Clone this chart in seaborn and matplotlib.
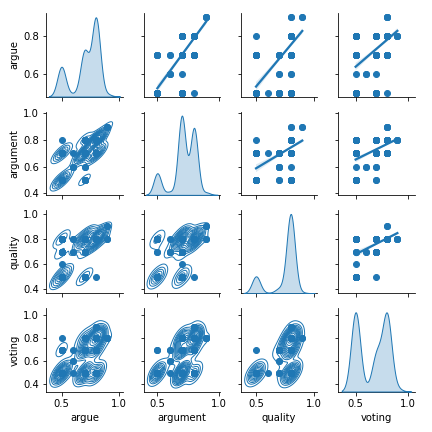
import numpy as np
import pandas as pd
import matplotlib
matplotlib.use("Agg")
import matplotlib.pyplot as plt
import seaborn as sns

# distinct response patterns (argue, argument, quality, voting) and how often each occurs
argue_vals = [0.5, 0.5, 0.5, 0.5, 0.5, 0.5, 0.5, 0.5,
              0.6, 0.6, 0.6,
              0.7, 0.7, 0.7, 0.7, 0.7, 0.7, 0.7, 0.7, 0.7, 0.7,
              0.8, 0.8, 0.8, 0.8, 0.8, 0.8, 0.8, 0.8,
              0.9, 0.9]
argument_vals = [0.5, 0.5, 0.5, 0.7, 0.7, 0.7, 0.7, 0.8,
                 0.6, 0.7, 0.6,
                 0.6, 0.5, 0.7, 0.7, 0.7, 0.7, 0.7, 0.7, 0.8, 0.8,
                 0.8, 0.7, 0.8, 0.7, 0.8, 0.7, 0.8, 0.8,
                 0.9, 0.9]
quality_vals = [0.5, 0.8, 0.7, 0.5, 0.8, 0.7, 0.6, 0.8,
                0.7, 0.8, 0.8,
                0.7, 0.8, 0.5, 0.5, 0.7, 0.8, 0.8, 0.8, 0.8, 0.8,
                0.5, 0.8, 0.8, 0.8, 0.8, 0.8, 0.8, 0.8,
                0.8, 0.9]
voting_vals = [0.5, 0.5, 0.7, 0.5, 0.5, 0.7, 0.5, 0.8,
               0.6, 0.7, 0.5,
               0.7, 0.5, 0.5, 0.7, 0.5, 0.5, 0.7, 0.8, 0.7, 0.8,
               0.5, 0.5, 0.5, 0.7, 0.7, 0.8, 0.8, 0.9,
               0.8, 0.8]
counts = [27, 3, 2, 12, 6, 4, 1, 1,
          2, 1, 1,
          2, 5, 8, 1, 3, 25, 22, 10, 4, 4,
          1, 10, 18, 10, 8, 22, 74, 4,
          2, 2]

patterns = pd.DataFrame({"argue": argue_vals, "argument": argument_vals,
                         "quality": quality_vals, "voting": voting_vals})
df = patterns.loc[np.repeat(patterns.index, counts)].reset_index(drop=True)

g = sns.PairGrid(df, height=1.5, diag_sharey=False)
g.map_upper(sns.regplot, scatter_kws={"alpha": 1})
g.map_diag(sns.kdeplot, fill=True)
g.map_lower(sns.kdeplot, levels=14, linewidths=1)
g.map_lower(plt.scatter)

g.figure.savefig("out.png", dpi=72)
